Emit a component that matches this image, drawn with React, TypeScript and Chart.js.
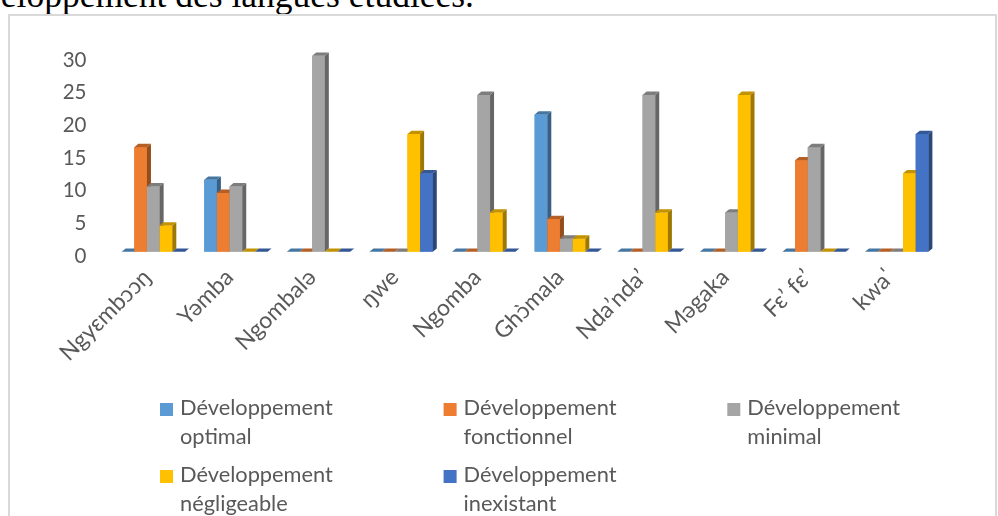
import React, { useEffect, useRef } from "react";
import { Chart, registerables } from "chart.js";

Chart.register(...registerables);

// Languages (categories)
const languages = [
  "Ngyɛmbɔɔŋ",
  "Yəmba",
  "Ngombalə",
  "ŋwe",
  "Ngomba",
  "Ghɔ̀mala",
  "Nda’nda’",
  "Məgaka",
  "Fɛ’ fɛ’",
  "kwaˈ",
];

// Series labels (legend, wrapped on two lines)
const seriesNames: string[][] = [
  ["Développement", "optimal"],
  ["Développement", "fonctionnel"],
  ["Développement", "minimal"],
  ["Développement", "négligeable"],
  ["Développement", "inexistant"],
];

const seriesColors = ["#5B9BD5", "#ED7D31", "#A5A5A5", "#FFC000", "#4472C4"];

// Values per series, one entry per language
const optimal = [0, 11, 0, 0, 0, 21, 0, 0, 0, 0];
const fonctionnel = [16, 9, 0, 0, 0, 5, 0, 0, 14, 0];
const minimal = [10, 10, 30, 0, 24, 2, 24, 6, 16, 0];
const negligeable = [4, 0, 0, 18, 6, 2, 6, 24, 0, 12];
const inexistant = [0, 0, 0, 12, 0, 0, 0, 0, 0, 18];

const yTicks = [0, 5, 10, 15, 20, 25, 30];

const seriesValues = [optimal, fonctionnel, minimal, negligeable, inexistant];

const FONT = "Lato, 'Open Sans', sans-serif";
const TEXT = "#595959";

function shade(hex: string, f: number): string {
  const n = parseInt(hex.slice(1), 16);
  const r = Math.round(((n >> 16) & 255) * f);
  const g = Math.round(((n >> 8) & 255) * f);
  const b = Math.round((n & 255) * f);
  return `rgb(${r},${g},${b})`;
}

// Extruded bars: front, right side and top faces, drawn group by group
const DX = 4;
const DY = 3.3;
const bars3d = {
  id: "bars3d",
  afterDatasetsDraw(chart: any) {
    const ctx = chart.ctx as CanvasRenderingContext2D;
    const n = chart.data.labels.length;
    const poly = (pts: number[][]) => {
      ctx.beginPath();
      ctx.moveTo(pts[0][0], pts[0][1]);
      for (let k = 1; k < pts.length; k++) ctx.lineTo(pts[k][0], pts[k][1]);
      ctx.closePath();
      ctx.fill();
    };
    ctx.save();
    for (let i = 0; i < n; i++) {
      chart.data.datasets.forEach((ds: any, d: number) => {
        const el = chart.getDatasetMeta(d).data[i];
        if (!el) return;
        const { x, y, base, width } = el.getProps(["x", "y", "base", "width"], true);
        const l = x - width / 2;
        const r = x + width / 2;
        const col = ds.backgroundColor as string;
        ctx.fillStyle = col;
        ctx.fillRect(l, y, width, base - y);
        if (base - y > 0.5) {
          ctx.fillStyle = shade(col, 0.62);
          poly([[r, y], [r + DX, y - DY], [r + DX, base - DY], [r, base]]);
        }
        ctx.fillStyle = shade(col, 0.76);
        poly([[l, y], [l + DX, y - DY], [r + DX, y - DY], [r, y]]);
      });
    }
    ctx.restore();
  },
};

// Category names under each group, slanted at 45 degrees and ending at the group centre
const slantedLabels = {
  id: "slantedLabels",
  afterDraw(chart: any) {
    const ctx = chart.ctx as CanvasRenderingContext2D;
    const xs = chart.scales.x;
    ctx.save();
    ctx.font = `23px ${FONT}`;
    ctx.fillStyle = TEXT;
    ctx.textAlign = "right";
    ctx.textBaseline = "alphabetic";
    (chart.data.labels as string[]).forEach((lab, i) => {
      const x = xs.getPixelForTick(i);
      ctx.save();
      ctx.translate(x - 1, xs.top + 27);
      ctx.rotate(-Math.PI / 4);
      ctx.fillText(lab, 0, 0);
      ctx.restore();
    });
    ctx.restore();
  },
};

// Three-column legend under the chart, with two-line labels
const legend3 = {
  id: "legend3",
  afterDraw(chart: any) {
    const ctx = chart.ctx as CanvasRenderingContext2D;
    const colX = [150, 433.6, 717.3];
    const rowY = [392, 459];
    const lineGap = 29;
    ctx.save();
    ctx.font = `21.8px ${FONT}`;
    ctx.textBaseline = "middle";
    ctx.textAlign = "left";
    chart.data.datasets.forEach((ds: any, i: number) => {
      const cx = colX[i % 3];
      const cy = rowY[Math.floor(i / 3)];
      ctx.fillStyle = ds.backgroundColor;
      ctx.fillRect(cx, cy - 5, 13, 13);
      ctx.fillStyle = TEXT;
      const lines: string[] = ds.label.split("\n");
      lines.forEach((t, k) => ctx.fillText(t, cx + 20, cy + k * lineGap));
    });
    ctx.restore();
  },
};

function App() {
  const ref = useRef<HTMLCanvasElement | null>(null);

  useEffect(() => {
    if (!ref.current) return;
    const chart = new Chart(ref.current, {
      type: "bar",
      data: {
        labels: languages,
        datasets: seriesValues.map((vals, i) => ({
          label: seriesNames[i].join("\n"),
          data: vals,
          backgroundColor: seriesColors[i],
          borderWidth: 0,
          categoryPercentage: 0.767,
          barPercentage: 1,
        })),
      },
      options: {
        animation: false,
        responsive: false,
        maintainAspectRatio: false,
        devicePixelRatio: 1,
        layout: { padding: { left: 0, right: 57, top: 39.7, bottom: 0 } },
        plugins: {
          legend: { display: false },
          tooltip: { enabled: false },
          title: { display: false },
        },
        scales: {
          x: {
            grid: { display: false },
            border: { display: false },
            ticks: { display: false, autoSkip: false },
            afterFit(scale: any) {
              scale.height = 264.3;
            },
          },
          y: {
            min: 0,
            max: 30,
            grid: { display: false, drawTicks: false },
            border: { display: false },
            afterBuildTicks(scale: any) {
              scale.ticks = yTicks.map((v) => ({ value: v }));
            },
            ticks: {
              color: TEXT,
              font: { family: FONT, size: 20.5 },
              padding: 25.5,
              labelOffset: 4.5,
            },
            afterFit(scale: any) {
              scale.width = 102;
            },
          },
        },
      },
      plugins: [bars3d, slantedLabels, legend3],
    });
    return () => chart.destroy();
  }, []);

  return (
    <div
      style={{
        position: "fixed",
        left: 0,
        top: 0,
        width: 998,
        height: 516,
        overflow: "hidden",
        background: "#fff",
      }}
    >
      <span
        style={{
          position: "absolute",
          right: 524,
          top: -22.5,
          fontFamily: "'Liberation Serif', serif",
          fontSize: 35.5,
          lineHeight: "35.5px",
          whiteSpace: "nowrap",
          color: "#000",
        }}
      >
        Développement des langues étudiées.
      </span>
      <div
        style={{
          position: "absolute",
          left: 8,
          top: 14,
          width: 985,
          height: 520,
          borderLeft: "2px solid #d9d9d9",
          borderTop: "2px solid #d9d9d9",
          borderRight: "2px solid #d9d9d9",
        }}
      >
        <canvas
          ref={ref}
          width={985}
          height={500}
          style={{ position: "absolute", left: 0, top: 0, width: 985, height: 500 }}
        />
      </div>
    </div>
  );
}

export default App;
